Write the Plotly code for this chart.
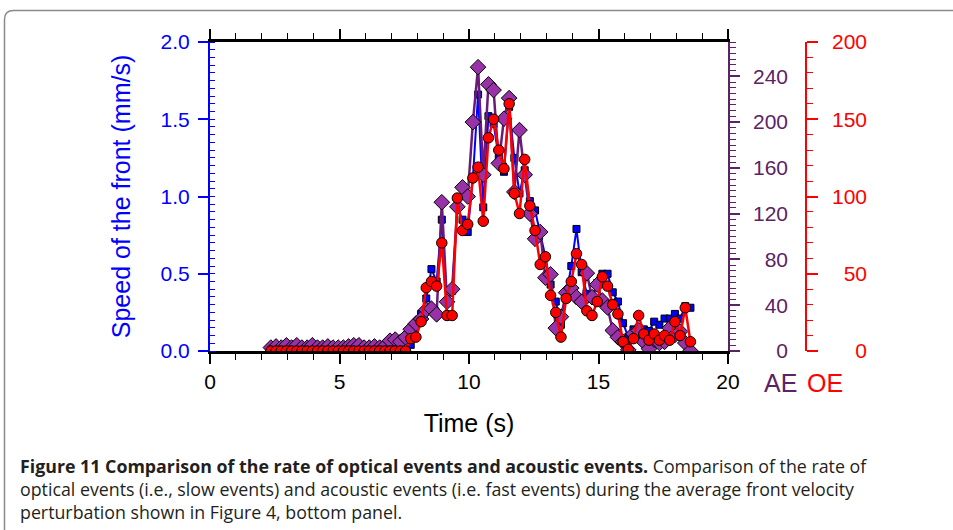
import plotly.graph_objects as go

# ---------------- data ----------------
time_s = [2.35, 2.55, 2.75, 2.95, 3.15, 3.35, 3.55, 3.75, 3.95, 4.15,
          4.35, 4.55, 4.75, 4.95, 5.15, 5.35, 5.55, 5.75, 5.95, 6.15,
          6.35, 6.55, 6.75, 6.95, 7.15, 7.35, 7.55, 7.75, 7.95, 8.15,
          8.35, 8.55, 8.75, 8.95, 9.15, 9.35, 9.55, 9.75, 9.95, 10.15,
          10.35, 10.55, 10.75, 10.95, 11.15, 11.35, 11.55, 11.75, 11.95, 12.15,
          12.35, 12.55, 12.75, 12.95, 13.15, 13.35, 13.55, 13.75, 13.95, 14.15,
          14.35, 14.55, 14.75, 14.95, 15.15, 15.35, 15.55, 15.75, 15.95, 16.15,
          16.35, 16.55, 16.75, 16.95, 17.15, 17.35, 17.55, 17.75, 17.95, 18.15,
          18.35, 18.55]

speed_front = [0, 0, 0, 0, 0, 0, 0, 0, 0, 0,
               0, 0, 0, 0, 0, 0, 0, 0, 0, 0,
               0, 0, 0, 0, 0, 0, 0, 0.04, 0.17, 0.24,
               0.34, 0.53, 0.45, 0.85, 0.32, 0.39, 0.93, 0.85, 0.77, 1.12,
               1.66, 0.93, 1.52, 1.47, 1.25, 1.16, 1.58, 1.25, 1.02, 1.17,
               0.97, 0.91, 0.77, 0.61, 0.43, 0.32, 0.17, 0.37, 0.55, 0.79,
               0.51, 0.37, 0.34, 0.44, 0.50, 0.50, 0.38, 0.32, 0.18, 0.09,
               0.14, 0.15, 0.14, 0.13, 0.19, 0.17, 0.21, 0.21, 0.24, 0.21,
               0.29, 0.28]

acoustic_events = [3, 4, 3, 5, 3, 5, 3, 3, 5, 3,
                   3, 4, 3, 3, 3, 4, 5, 5, 3, 3,
                   4, 3, 4, 9, 10, 8, 12, 19, 24, 28,
                   36, 37, 32, 130, 43, 54, 126, 143, 135, 200,
                   248, 154, 233, 228, 164, 203, 221, 139, 193, 154,
                   120, 98, 104, 64, 67, 20, 30, 51, 55, 47,
                   43, 68, 47, 58, 44, 38, 18, 12, 8, 1,
                   15, 18, 8, 2, 10, 7, 8, 20, 14, 17,
                   7, 0]

optical_events = [0, 0, 0, 0, 0, 0, 0, 0, 0, 0,
                  0, 0, 0, 0, 0, 0, 0, 0, 0, 0,
                  0, 0, 0, 0, 0, 0, 0, 8, 9, 19,
                  41, 45, 42, 70, 23, 23, 99, 78, 82, 112,
                  119, 84, 138, 150, 130, 118, 160, 102, 89, 124,
                  94, 78, 56, 61, 36, 25, 9, 34, 45, 63,
                  56, 26, 23, 32, 48, 42, 30, 24, 6, 1,
                  8, 23, 11, 7, 11, 7, 10, 7, 19, 10,
                  28, 6]

x_range = [0, 20]
speed_range = [0, 2.0]
ae_range = [0, 270]
oe_range = [0, 200]

x_title = "Time (s)"
y_title = "Speed of the front (mm/s)"
caption_lines = [
    "<b>Figure 11 Comparison of the rate of optical events and acoustic events.</b> Comparison of the rate of",
    "optical events (i.e., slow events) and acoustic events (i.e. fast events) during the average front velocity",
    "perturbation shown in Figure 4, bottom panel.",
]

# ---------------- layout geometry (pixels) ----------------
W, H = 953, 530
PL, PR, PT, PB = 210, 728, 42, 351          # plot area
MR = 60                                      # right margin
paper_w = W - PL - MR
paper_h = PB - PT


def px(xpix):
    return (xpix - PL) / paper_w


def py(ypix):
    return (PB - ypix) / paper_h


BLUE = "#0000ff"
PURPLE_AX = "#5c2266"
PURPLE_LINE = "#6a1b7a"
PURPLE_FILL = "#9932a8"
RED = "#ff0000"
FONT = "Liberation Sans"
TICK_SIZE = 21
TITLE_SIZE = 25

fig = go.Figure()

fig.add_trace(go.Scatter(
    x=time_s, y=speed_front, mode="lines+markers", yaxis="y",
    line=dict(color=BLUE, width=2),
    marker=dict(symbol="square", size=7, color=BLUE, line=dict(color="black", width=1)),
    showlegend=False))
fig.add_trace(go.Scatter(
    x=time_s, y=acoustic_events, mode="lines+markers", yaxis="y2",
    line=dict(color=PURPLE_LINE, width=2.5),
    marker=dict(symbol="diamond", size=12, color=PURPLE_FILL, line=dict(color="black", width=1)),
    showlegend=False))
fig.add_trace(go.Scatter(
    x=time_s, y=optical_events, mode="lines+markers", yaxis="y3",
    line=dict(color=RED, width=2.5),
    marker=dict(symbol="circle", size=10.5, color=RED, line=dict(color="black", width=1)),
    showlegend=False))
# label-only axes
fig.add_trace(go.Scatter(x=[], y=[], yaxis="y4", showlegend=False, hoverinfo="skip"))
fig.add_trace(go.Scatter(x=[], y=[], yaxis="y5", showlegend=False, hoverinfo="skip"))

fig.update_layout(
    width=W, height=H,
    margin=dict(l=PL, r=MR, t=PT, b=H - PB, pad=0, autoexpand=False),
    paper_bgcolor="white", plot_bgcolor="white",
    font=dict(family=FONT, size=20, color="black"),
    showlegend=False,
    xaxis=dict(
        domain=[0, (PR - PL) / paper_w], range=x_range, automargin=False,
        tick0=0, dtick=5, ticks="outside", ticklen=10, tickwidth=1.5, tickcolor="black",
        minor=dict(dtick=1, ticks="outside", ticklen=6, tickwidth=1, tickcolor="black"),
        showline=True, linecolor="black", linewidth=2.5, mirror="ticks",
        showgrid=False, zeroline=False, ticklabelstandoff=0,
        tickfont=dict(family=FONT, size=TICK_SIZE, color="black"),
        title=dict(text=x_title, font=dict(family=FONT, size=TITLE_SIZE, color="black"), standoff=23),
    ),
    yaxis=dict(
        range=speed_range, tick0=0, dtick=0.5, tickformat=".1f", automargin=False,
        ticks="outside", ticklen=10, tickwidth=1.5, tickcolor=BLUE,
        minor=dict(dtick=0.05, ticks="inside", ticklen=5, tickwidth=1, tickcolor=BLUE),
        showline=True, linecolor=BLUE, linewidth=2, mirror=False,
        showgrid=False, zeroline=False, ticklabelstandoff=4,
        tickfont=dict(family=FONT, size=TICK_SIZE, color=BLUE),
        title=dict(text=y_title, font=dict(family=FONT, size=TITLE_SIZE, color=BLUE), standoff=23),
    ),
    yaxis2=dict(
        overlaying="y", anchor="x", side="right", range=ae_range, automargin=False,
        tick0=0, dtick=40, ticks="outside", ticklen=10, tickwidth=1.5, tickcolor=PURPLE_AX,
        minor=dict(dtick=5, ticks="outside", ticklen=6, tickwidth=1, tickcolor=PURPLE_AX),
        showline=True, linecolor=PURPLE_AX, linewidth=2,
        showticklabels=False, showgrid=False, zeroline=False,
    ),
    yaxis3=dict(
        overlaying="y", anchor="free", position=px(806), side="right", range=oe_range,
        automargin=False,
        tick0=0, dtick=50, ticks="outside", ticklen=11, tickwidth=1.5, tickcolor=RED,
        minor=dict(dtick=10, ticks="outside", ticklen=6, tickwidth=1, tickcolor=RED),
        showline=True, linecolor=RED, linewidth=2,
        showticklabels=False, showgrid=False, zeroline=False,
    ),
    yaxis4=dict(
        overlaying="y", anchor="free", position=px(788), side="left", range=ae_range,
        automargin=False,
        tick0=0, dtick=40, ticks="", showline=False, showgrid=False, zeroline=False,
        tickfont=dict(family=FONT, size=TICK_SIZE, color=PURPLE_AX),
    ),
    yaxis5=dict(
        overlaying="y", anchor="free", position=px(867), side="left", range=oe_range,
        automargin=False,
        tick0=0, dtick=50, ticks="", showline=False, showgrid=False, zeroline=False,
        tickfont=dict(family=FONT, size=TICK_SIZE, color=RED),
    ),
)

annotations = [
    dict(text="AE", x=px(780), y=py(383), xref="paper", yref="paper",
         showarrow=False, xanchor="center", yanchor="middle",
         font=dict(family=FONT, size=TITLE_SIZE, color=PURPLE_AX)),
    dict(text="OE", x=px(825), y=py(383), xref="paper", yref="paper",
         showarrow=False, xanchor="center", yanchor="middle",
         font=dict(family=FONT, size=TITLE_SIZE, color=RED)),
]
for i, (line, ypix) in enumerate(zip(caption_lines, [466, 489, 512])):
    annotations.append(dict(
        text=line, x=px(18), y=py(ypix), xref="paper", yref="paper",
        showarrow=False, xanchor="left", yanchor="middle", align="left",
        font=dict(family="Open Sans", size=17.8, color="#231f20")))
fig.update_layout(annotations=annotations)

# rounded frame (only the top-left corner is visible)
r = 9
L, T = 4.5, 10.5
path = (f"M {px(L)},{py(560)} L {px(L)},{py(T + r)} "
        f"Q {px(L)},{py(T)} {px(L + r)},{py(T)} L {px(980)},{py(T)}")
fig.add_shape(type="path", xref="paper", yref="paper", path=path,
              line=dict(color="#8a8a8a", width=1.5), layer="below")

fig.write_html("out.html", config={"displayModeBar": False},
               post_script="document.body.style.margin='0';document.body.style.overflow='hidden';")
